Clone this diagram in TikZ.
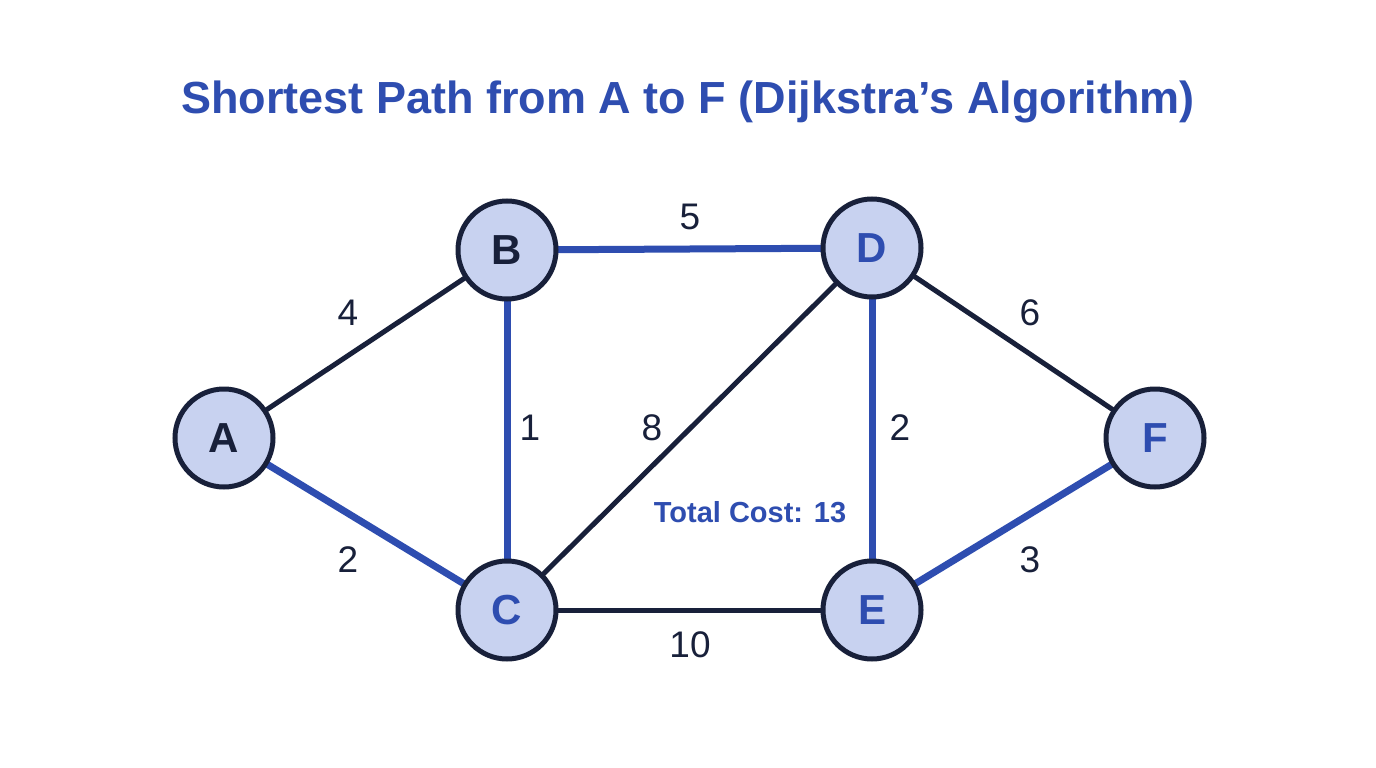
\documentclass[tikz,border=0pt]{standalone}
\usepackage{fontspec}
\setmainfont{Liberation Sans}
\definecolor{navy}{HTML}{18203A}
\definecolor{pblue}{HTML}{2E4DB0}
\definecolor{nfill}{HTML}{C8D2F0}
\begin{document}
\begin{tikzpicture}[x=1pt,y=-1pt,
  v/.style={circle,draw=navy,line width=5pt,fill=nfill,minimum size=98pt,inner sep=0pt,font=\fontsize{42}{44}\selectfont\bfseries},
  e/.style={draw=navy,line width=5pt},
  p/.style={draw=pblue,line width=7pt},
  w/.style={font=\fontsize{37}{39}\selectfont,text=navy}]
\useasboundingbox (0,0) rectangle (1376,768);
\fill[white] (0,0) rectangle (1376,768);
\node[text=pblue,font=\fontsize{45}{48}\selectfont\bfseries] (t) at (688,102) {Shortest Path from A to F (Dijkstra’s Algorithm)};
\coordinate (pA) at (224,438); \coordinate (pB) at (507,250); \coordinate (pC) at (507,610);
\coordinate (pD) at (872,248); \coordinate (pE) at (872,610); \coordinate (pF) at (1155,438);
\draw[e] (pA)--(pB); \draw[e] (pC)--(pD); \draw[e] (pC)--(pE); \draw[e] (pD)--(pF);
\draw[p] (pA)--(pC); \draw[p] (pC)--(pB); \draw[p] (pB)--(pD); \draw[p] (pD)--(pE); \draw[p] (pE)--(pF);
\node[v,text=navy] (A) at (pA) {A};
\node[v,text=navy] (B) at (pB) {B};
\node[v,text=pblue] (C) at (pC) {C};
\node[v,text=pblue] (D) at (pD) {D};
\node[v,text=pblue] (E) at (pE) {E};
\node[v,text=pblue] (F) at (pF) {F};
\node[w] (l1) at (348,313) {4};
\node[w] (l2) at (690,217) {5};
\node[w] (l3) at (1030,313) {6};
\node[w] (l4) at (530,428) {1};
\node[w] (l5) at (652,428) {8};
\node[w] (l6) at (900,428) {2};
\node[w] (l7) at (348,560) {2};
\node[w] (l8) at (690,645) {10};
\node[w] (l9) at (1030,560) {3};
\node[text=pblue,font=\fontsize{29}{31}\selectfont\bfseries] (tc) at (750,512) {Total Cost: 13};
\end{tikzpicture}
\end{document}
